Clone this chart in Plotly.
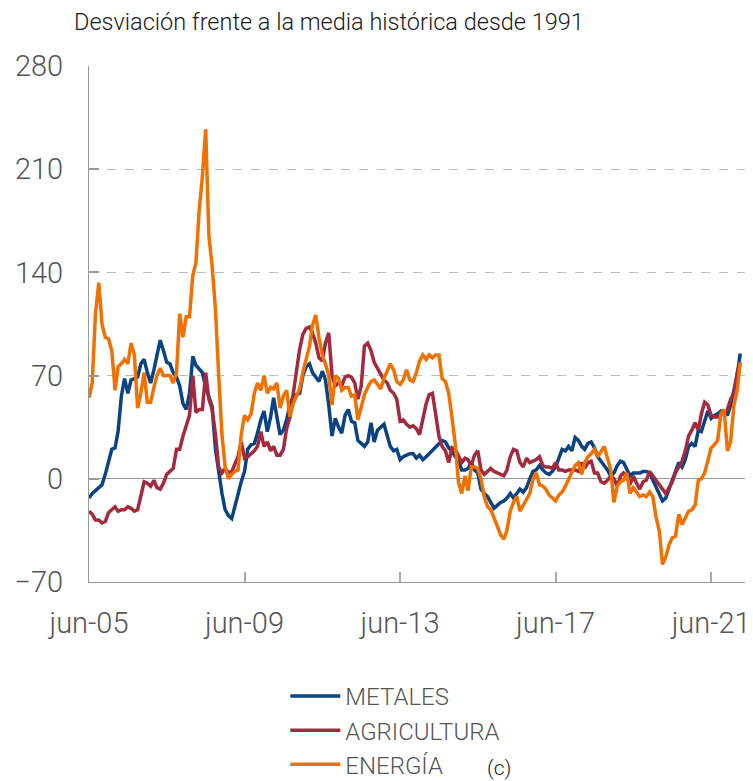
import pandas as pd
import plotly.graph_objects as go

# monthly deviation from 1991 historical mean, jun-05 .. mar-22
start_month = "2005-06-01"

metales = [
    -13, -10, -8, -6, -4, 3, 11, 20, 21, 32, 56, 68,
    58, 67, 68, 69, 78, 81, 72, 65, 74, 83, 94, 87,
    79, 78, 72, 69, 63, 51, 47, 58, 83, 77, 74, 72,
    62, 55, 49, 20, 5, -10, -21, -25, -27, -19, -10, -2,
    5, 20, 23, 24, 31, 40, 46, 32, 42, 55, 42, 30,
    33, 40, 50, 56, 57, 58, 70, 76, 78, 72, 69, 66,
    73, 67, 50, 29, 41, 35, 31, 43, 47, 39, 38, 26,
    24, 22, 25, 38, 25, 33, 35, 37, 29, 22, 19, 20,
    13, 15, 16, 17, 17, 14, 16, 13, 15, 17, 20, 22,
    24, 26, 25, 21, 19, 15, 13, 6, 6, 7, 11, 6,
    4, -7, -10, -12, -16, -20, -18, -16, -15, -13, -10, -13,
    -10, -7, -9, -6, 0, 5, 6, 9, 6, 4, 3, 5,
    8, 14, 20, 19, 22, 19, 28, 26, 22, 20, 24, 25,
    21, 15, 12, 9, 6, 2, 4, 9, 12, 11, 6, 2,
    4, 4, 4, 5, 5, 4, -1, -5, -10, -15, -13, -7,
    -2, 4, 11, 8, 13, 22, 24, 22, 33, 32, 40, 46,
    41, 43, 44, 46, 46, 43, 50, 59, 70, 85,
]

agricultura = [
    -22, -24, -28, -28, -30, -29, -23, -21, -19, -22, -21, -21,
    -19, -20, -22, -21, -12, -2, -3, -5, -1, -6, -7, -3,
    3, 5, 7, 20, 20, 29, 37, 43, 70, 45, 47, 47,
    72, 54, 47, 30, 8, 4, 7, 4, 5, 10, 15, 25,
    14, 15, 17, 19, 22, 32, 22, 25, 19, 22, 16, 16,
    20, 34, 42, 58, 72, 88, 98, 102, 103, 99, 92, 82,
    80, 92, 99, 70, 63, 65, 63, 69, 70, 69, 65, 54,
    63, 90, 92, 87, 79, 75, 70, 67, 65, 60, 58, 54,
    39, 40, 37, 35, 36, 34, 30, 42, 51, 57, 58, 44,
    29, 22, 19, 11, 21, 20, 16, 11, 14, 13, 9, 16,
    19, 6, 3, 5, 7, 5, 4, 3, 2, 6, 15, 20,
    19, 11, 8, 14, 11, 12, 13, 15, 9, 8, 8, 7,
    11, 6, 6, 5, 6, 6, 6, 5, 11, 7, 11, 12,
    4, 4, -2, -3, -1, 2, 0, -5, 2, 4, 2, -4,
    2, -3, -7, -2, -1, 5, 2, -2, -5, -7, -10, -6,
    -2, 4, 8, 12, 19, 29, 33, 38, 33, 44, 52, 50,
    43, 42, 42, 44, 44, 47, 54, 58, 72, 79,
]

energia = [
    55, 65, 112, 133, 105, 96, 95, 87, 60, 76, 78, 81,
    78, 92, 84, 48, 58, 72, 52, 52, 62, 70, 75, 70,
    70, 70, 65, 72, 112, 96, 110, 110, 138, 146, 182, 205,
    237, 165, 144, 115, 70, 30, 8, 0, 3, 5, 6, 30,
    43, 40, 44, 58, 65, 60, 70, 58, 62, 61, 65, 48,
    56, 60, 42, 51, 56, 61, 72, 80, 90, 104, 111, 96,
    84, 78, 70, 50, 70, 68, 60, 62, 62, 56, 57, 40,
    49, 57, 62, 66, 67, 64, 61, 68, 74, 78, 74, 66,
    64, 67, 74, 67, 66, 72, 80, 84, 81, 84, 82, 84,
    84, 68, 66, 58, 42, 24, -2, -10, 2, -8, 8, 8,
    7, 0, -12, -19, -21, -26, -32, -38, -41, -35, -22, -16,
    -12, -22, -18, -14, -10, 0, 4, -4, -5, -7, -11, -13,
    -15, -11, -9, -5, 0, 5, 9, 11, 3, 11, 15, 17,
    20, 15, 19, 22, 14, 6, -16, -5, -2, -1, 4, -10,
    -6, -9, -12, -11, -12, -9, -12, -26, -36, -58, -53, -45,
    -40, -39, -24, -31, -26, -22, -21, -18, -1, 0, 4, 13,
    21, 23, 26, 44, 47, 19, 25, 50, 60, 79,
]

series_names = ["METALES", "AGRICULTURA", "ENERGÍA"]
series_colors = ["#0a4282", "#a32a3e", "#f07000"]

y_ticks = [-70, 0, 70, 140, 210, 280]
x_tick_vals = ["2005-06-01", "2009-06-01", "2013-06-01", "2017-06-01", "2021-06-01"]
x_tick_text = ["jun-05", "jun-09", "jun-13", "jun-17", "jun-21"]

FONT = "Roboto"

fig = go.Figure()
for name, vals, col in zip(series_names, [metales, agricultura, energia], series_colors):
    dates = pd.date_range(start_month, periods=len(vals), freq="MS")
    fig.add_trace(go.Scatter(x=dates, y=vals, mode="lines", name=name,
                             line=dict(color=col, width=3.5)))

# page body adds an 8px margin, so the figure is 8px smaller on each axis
fig.update_layout(
    width=745, height=773,
    margin=dict(l=81, r=3, t=58, b=199, autoexpand=False),
    paper_bgcolor="white", plot_bgcolor="white",
    font=dict(family=FONT, color="#555555", weight=300),
    showlegend=True,
    legend=dict(x=0.297, y=-0.178, xanchor="left", yanchor="top",
                font=dict(size=24, color="#555555", family=FONT, weight=300),
                tracegroupgap=0, itemwidth=50, bgcolor="rgba(0,0,0,0)"),
    annotations=[
        dict(text="Desviación frente a la media histórica desde 1991",
             xref="paper", yref="paper", x=-0.025, y=1.085, xanchor="left", yanchor="middle",
             showarrow=False, font=dict(size=23.5, color="#1a1a1a", family=FONT, weight=300)),
        dict(text="(c)", xref="paper", yref="paper", x=0.62, y=-0.36,
             xanchor="center", yanchor="middle", showarrow=False,
             font=dict(size=21, color="#1a1a1a", family=FONT, weight=300)),
    ],
)

fig.update_xaxes(
    type="date", range=["2005-06-01", "2022-06-01"], automargin=False,
    tickvals=x_tick_vals, ticktext=x_tick_text,
    ticks="inside", ticklen=10, tickcolor="#aaaaaa", tickwidth=1.5,
    showline=True, linecolor="#999999", linewidth=1,
    showgrid=False, zeroline=False,
    tickfont=dict(size=29, color="#555555", family=FONT, weight=300),
    ticklabelstandoff=15,
)
fig.update_yaxes(
    range=[-70, 280], tickvals=y_ticks, automargin=False,
    ticks="inside", ticklen=10, tickcolor="#999999", tickwidth=1.5,
    showline=True, linecolor="#999999", linewidth=1,
    showgrid=True, gridcolor="#bbbbbb", griddash="dash", gridwidth=1,
    zeroline=True, zerolinecolor="#999999", zerolinewidth=1,
    tickfont=dict(size=29, color="#555555", family=FONT, weight=300),
    ticklabelstandoff=19,
)

fig.write_html("out.html")
